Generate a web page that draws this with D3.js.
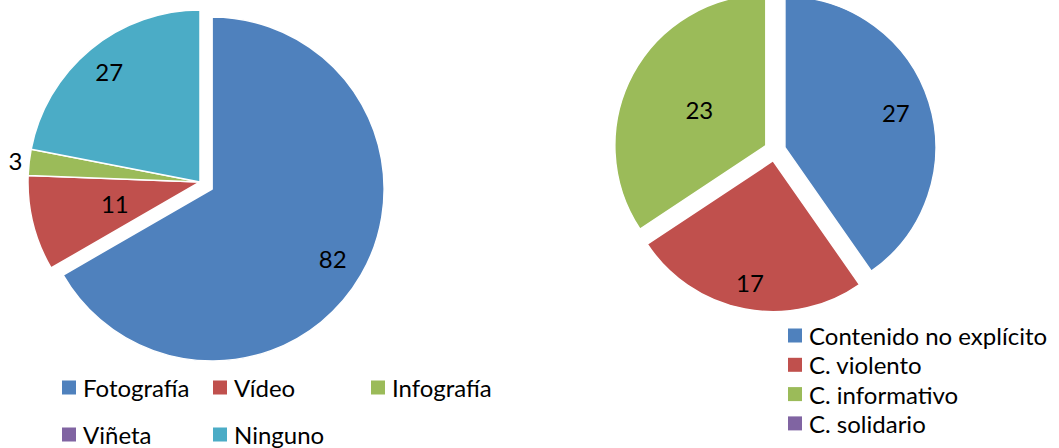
<!DOCTYPE html>
<html><head><meta charset="utf-8">
<script src="https://cdn.jsdelivr.net/npm/d3@7"></script>
<style>html,body{margin:0;padding:0;background:#fff;overflow:hidden}</style>
</head><body><svg id="c" width="1059" height="448"></svg>
<script>
// ---- data ----
const formatCategories = ["Fotografía", "Vídeo", "Infografía", "Viñeta", "Ninguno"];
const formatValues = [82, 11, 3, 0, 27];
const contentCategories = ["Contenido no explícito", "C. violento", "C. informativo", "C. solidario"];
const contentValues = [27, 17, 23, 0];
const palette = ["#4F81BD", "#C0504D", "#9BBB59", "#8064A2", "#4BACC6"];

// ---- layout ----
const FONT = "Lato, 'Open Sans', sans-serif";
const FS = 24;
const charts = [
  { cats: formatCategories, vals: formatValues, cx: 200, cy: 182, r: 172,
    explode: [14, 0, 0, 0, 0], labelR: [0.81, 0.51, 1.08, 0, 0.83],
    legend: { colX: [62, 213, 371], rowY: [387.5, 434.5], cols: 3 } },
  { cats: contentCategories, vals: contentValues, cx: 775, cy: 150.5, r: 151,
    explode: [10.4, 10.4, 10.4, 10.4], labelR: [0.77, 0.82, 0.5, 0],
    legend: { colX: [788], rowY: [335.5, 364.8, 394.1, 423.4], cols: 1 } }
];

const svg = d3.select("#c");
svg.append("rect").attr("width", 1059).attr("height", 448).attr("fill", "#fff");

charts.forEach(ch => {
  const color = d3.scaleOrdinal().domain(ch.cats).range(palette);
  const pie = d3.pie().sort(null).value(d => d.v).startAngle(0).endAngle(2 * Math.PI);
  const arcs = pie(ch.cats.map((c, i) => ({ c, v: ch.vals[i], i })));
  const arc = d3.arc().innerRadius(0).outerRadius(ch.r);
  const g = svg.append("g").attr("transform", `translate(${ch.cx},${ch.cy})`);

  const off = d => {
    const m = (d.startAngle + d.endAngle) / 2, e = ch.explode[d.data.i];
    return [e * Math.sin(m), -e * Math.cos(m)];
  };

  g.selectAll("path.slice").data(arcs.filter(d => d.value > 0)).join("path")
    .attr("class", "slice")
    .attr("d", arc)
    .attr("transform", d => `translate(${off(d)})`)
    .attr("fill", d => color(d.data.c))
    .attr("stroke", "#fff").attr("stroke-width", 1.5).attr("stroke-linejoin", "round");

  g.selectAll("text.lbl").data(arcs.filter(d => d.value > 0)).join("text")
    .attr("class", "lbl")
    .attr("x", d => { const m = (d.startAngle + d.endAngle) / 2; return off(d)[0] + ch.labelR[d.data.i] * ch.r * Math.sin(m); })
    .attr("y", d => { const m = (d.startAngle + d.endAngle) / 2; return off(d)[1] - ch.labelR[d.data.i] * ch.r * Math.cos(m); })
    .attr("text-anchor", "middle").attr("dominant-baseline", "central")
    .attr("font-family", FONT).attr("font-size", FS).attr("fill", "#000")
    .text(d => d.value);

  const L = ch.legend;
  const lg = svg.append("g").selectAll("g").data(ch.cats).join("g")
    .attr("transform", (c, i) => `translate(${L.colX[i % L.cols]},${L.rowY[Math.floor(i / L.cols)]})`);
  lg.append("rect").attr("x", 0).attr("y", -7).attr("width", 14).attr("height", 14).attr("fill", c => color(c));
  lg.append("text").attr("x", 21).attr("y", 0).attr("dominant-baseline", "central")
    .attr("font-family", FONT).attr("font-size", FS).attr("fill", "#000").text(c => c);
});
</script></body></html>
